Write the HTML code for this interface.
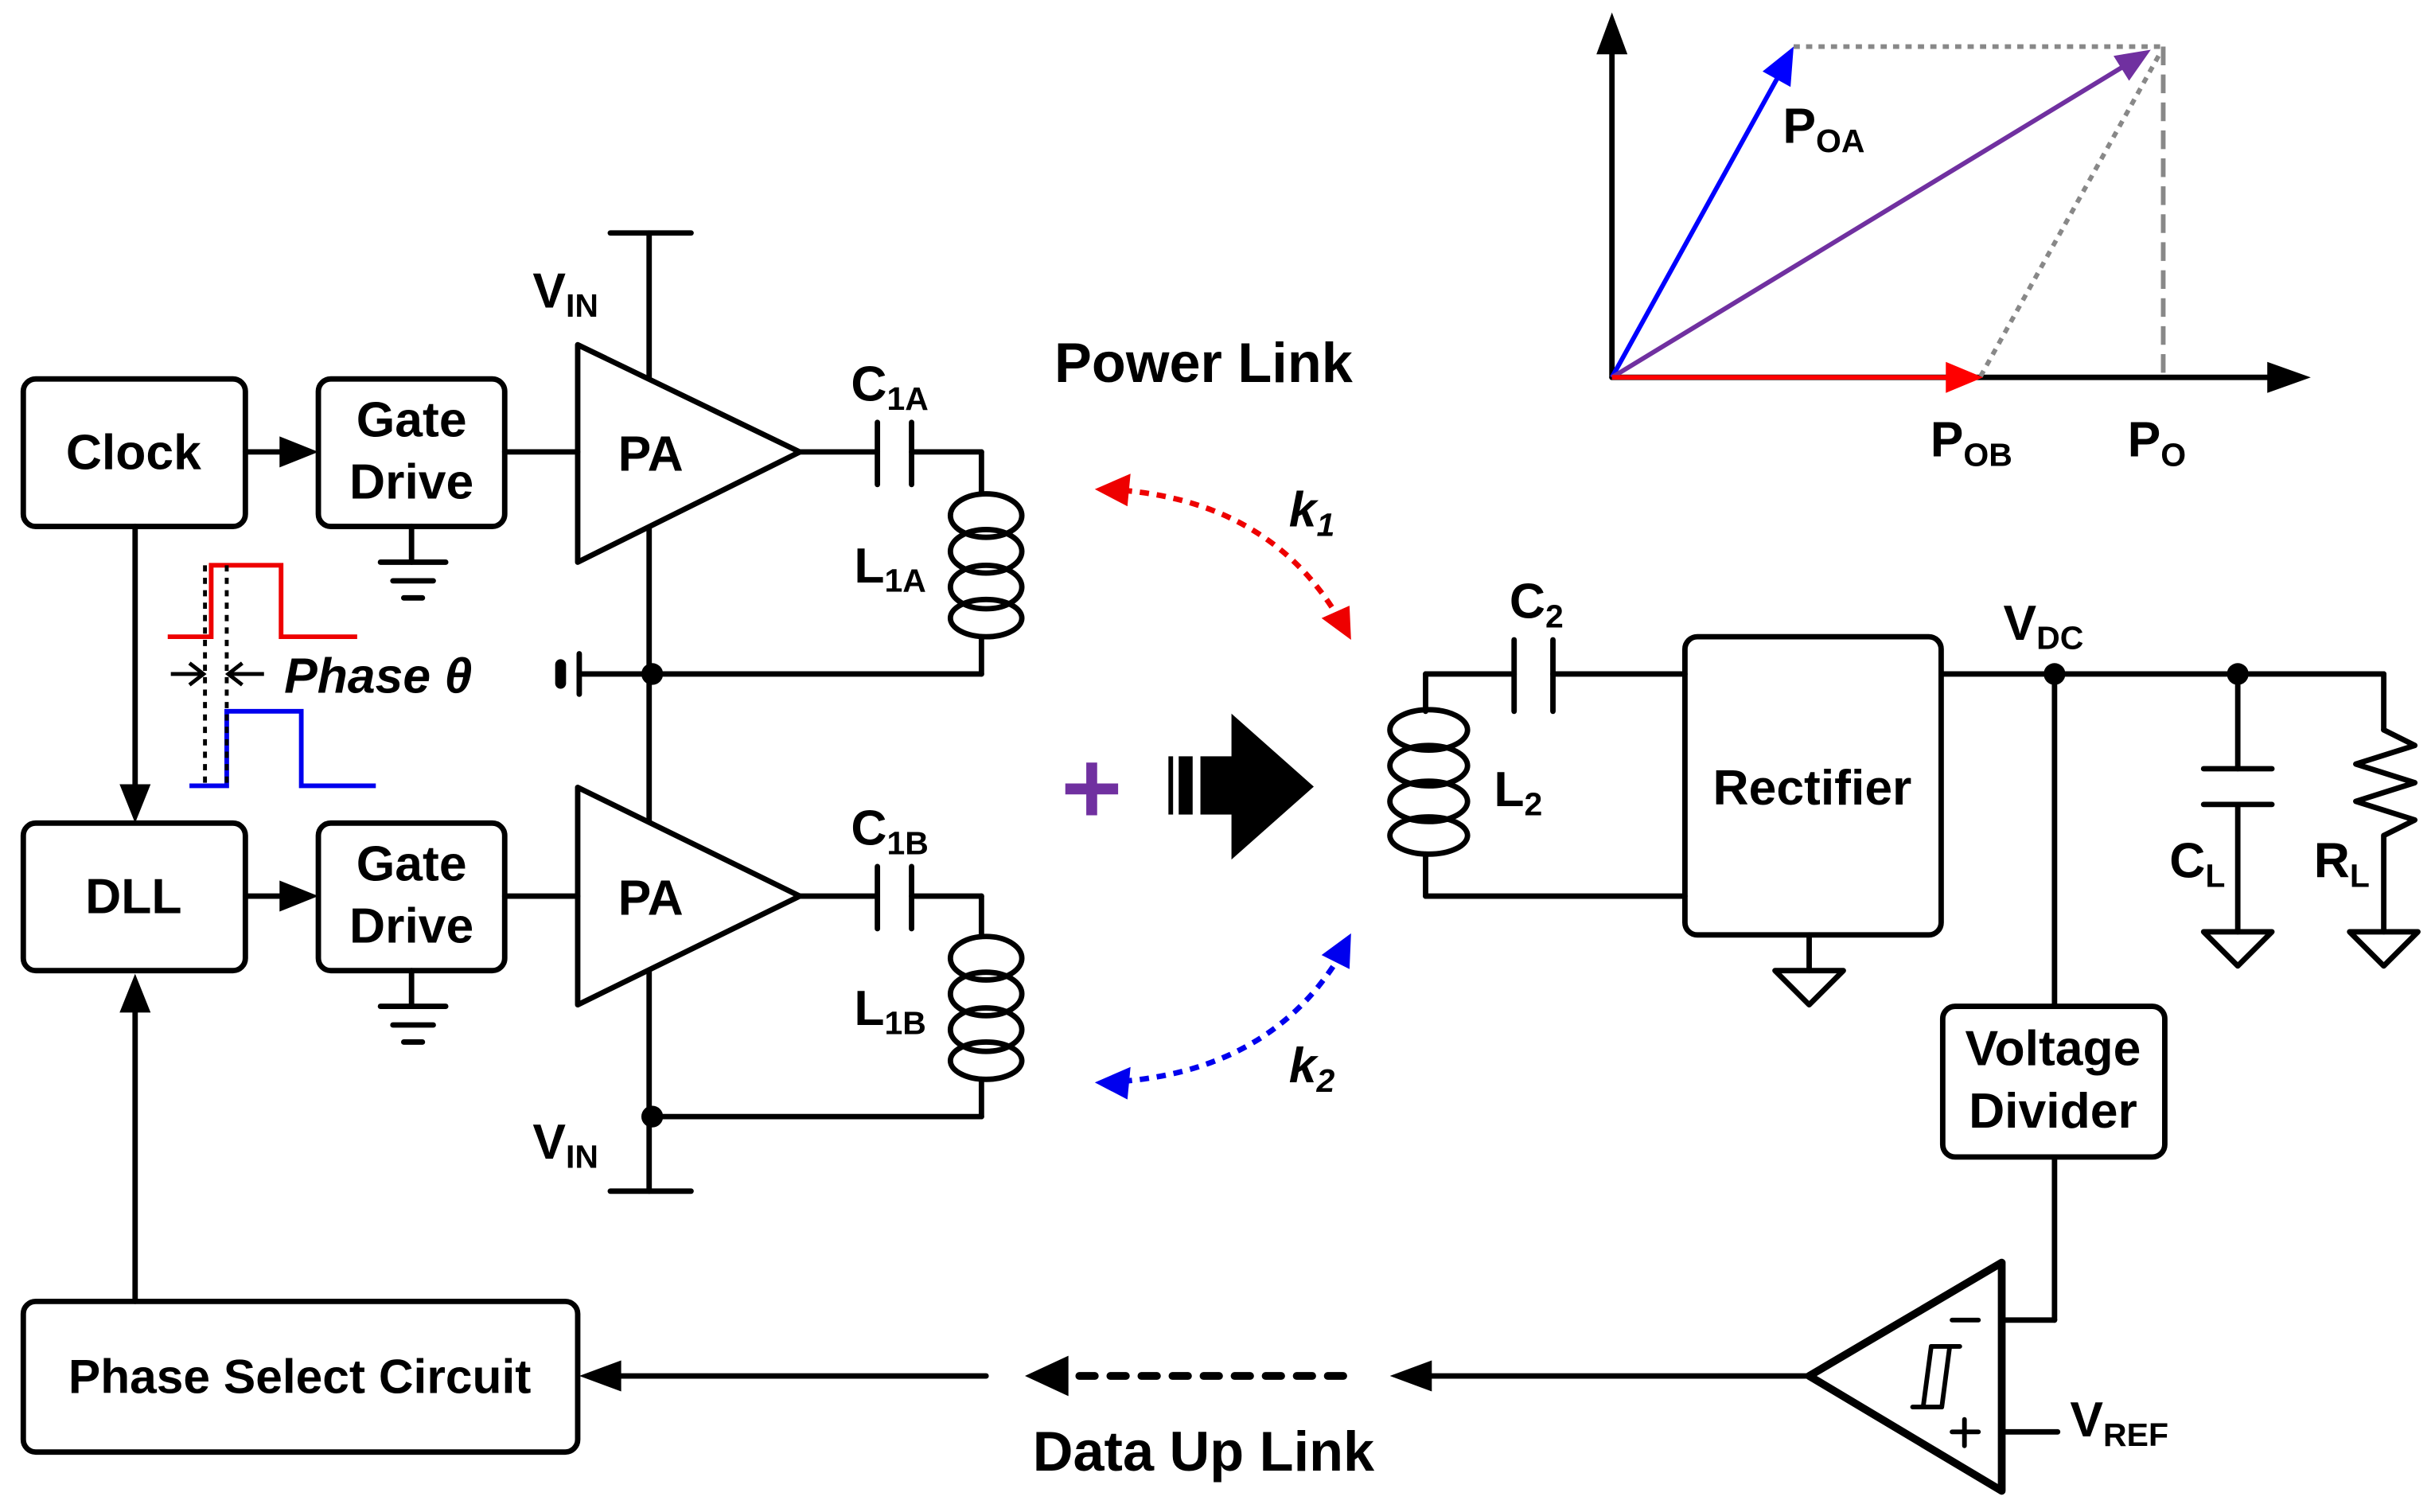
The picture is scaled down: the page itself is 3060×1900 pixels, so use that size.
<!DOCTYPE html>
<html><head><meta charset="utf-8"><style>
html,body{margin:0;padding:0;background:#fff;}
svg{display:block;}
text{font-family:"Liberation Sans",sans-serif;font-weight:bold;}
</style></head><body>
<svg width="3060" height="1900" viewBox="0 0 1568 973.6" xmlns="http://www.w3.org/2000/svg">
<g fill="none" stroke="#000" stroke-width="3.5" stroke-linecap="round" stroke-linejoin="round">
<rect x="15" y="244" width="143" height="95" rx="8"/>
<rect x="205" y="244" width="120" height="95" rx="8"/>
<rect x="15" y="530" width="143" height="95" rx="8"/>
<rect x="205" y="530" width="120" height="95" rx="8"/>
<rect x="15" y="838" width="357" height="97" rx="8"/>
<rect x="1085" y="410" width="165" height="192" rx="8"/>
<rect x="1251" y="648" width="143" height="97" rx="8"/>
<line x1="158" y1="291" x2="185" y2="291"/>
<line x1="158" y1="577" x2="185" y2="577"/>
<line x1="325" y1="291" x2="372" y2="291"/>
<line x1="325" y1="577" x2="372" y2="577"/>
<line x1="87" y1="339" x2="87" y2="508"/>
<line x1="87" y1="838" x2="87" y2="648"/>
<polygon points="372,222 372,362 515,291"/>
<polygon points="372,507 372,647 515,577"/>
<line x1="418" y1="150" x2="418" y2="244"/>
<line x1="393" y1="150" x2="445" y2="150"/>
<line x1="418" y1="340" x2="418" y2="529"/>
<line x1="418" y1="625" x2="418" y2="767"/>
<line x1="393" y1="767" x2="445" y2="767"/>
<line x1="515" y1="291" x2="565" y2="291"/>
<line x1="565" y1="272" x2="565" y2="312"/>
<line x1="587" y1="272" x2="587" y2="312"/>
<line x1="587" y1="291" x2="632" y2="291"/>
<line x1="632" y1="291" x2="632" y2="318"/>
<ellipse cx="635" cy="332" rx="23" ry="14"/>
<ellipse cx="635" cy="355" rx="23" ry="14"/>
<ellipse cx="635" cy="378" rx="23" ry="14"/>
<ellipse cx="635" cy="398" rx="23" ry="12"/>
<line x1="632" y1="410" x2="632" y2="434"/>
<line x1="632" y1="434" x2="420" y2="434"/>
<line x1="515" y1="577" x2="565" y2="577"/>
<line x1="565" y1="558" x2="565" y2="598"/>
<line x1="587" y1="558" x2="587" y2="598"/>
<line x1="587" y1="577" x2="632" y2="577"/>
<line x1="632" y1="577" x2="632" y2="603"/>
<ellipse cx="635" cy="617" rx="23" ry="14"/>
<ellipse cx="635" cy="640" rx="23" ry="14"/>
<ellipse cx="635" cy="663" rx="23" ry="14"/>
<ellipse cx="635" cy="683" rx="23" ry="12"/>
<line x1="632" y1="695" x2="632" y2="719"/>
<line x1="632" y1="719" x2="420" y2="719"/>
<line x1="418" y1="434" x2="373" y2="434"/>
<line x1="373" y1="421" x2="373" y2="447"/>
<line x1="361" y1="428" x2="361" y2="440" stroke-width="7"/>
<line x1="265" y1="339" x2="265" y2="362"/>
<line x1="245" y1="362" x2="287" y2="362"/>
<line x1="253" y1="374" x2="279" y2="374"/>
<line x1="260" y1="385" x2="272" y2="385"/>
<line x1="265" y1="625" x2="265" y2="648"/>
<line x1="245" y1="648" x2="287" y2="648"/>
<line x1="253" y1="660" x2="279" y2="660"/>
<line x1="260" y1="671" x2="272" y2="671"/>
<line x1="918" y1="434" x2="975" y2="434"/>
<line x1="975" y1="412" x2="975" y2="458"/>
<line x1="1000" y1="412" x2="1000" y2="458"/>
<line x1="1000" y1="434" x2="1085" y2="434"/>
<line x1="918" y1="577" x2="1085" y2="577"/>
<line x1="918" y1="434" x2="918" y2="458"/>
<ellipse cx="920" cy="470" rx="25" ry="13"/>
<ellipse cx="920" cy="493" rx="25" ry="13"/>
<ellipse cx="920" cy="516" rx="25" ry="13"/>
<ellipse cx="920" cy="538" rx="25" ry="12"/>
<line x1="918" y1="550" x2="918" y2="577"/>
<line x1="1165" y1="602" x2="1165" y2="625"/>
<polygon points="1143,625 1187,625 1165,647"/>
<line x1="1250" y1="434" x2="1535" y2="434"/>
<line x1="1323" y1="434" x2="1323" y2="648"/>
<line x1="1441" y1="434" x2="1441" y2="495"/>
<line x1="1419" y1="495" x2="1463" y2="495"/>
<line x1="1419" y1="518" x2="1463" y2="518"/>
<line x1="1441" y1="518" x2="1441" y2="600"/>
<polygon points="1419,600 1463,600 1441,622"/>
<line x1="1535" y1="434" x2="1535" y2="470"/>
<polyline points="1535,470 1555,480 1517,492 1555,504 1517,516 1555,528 1535,538 1535,600"/>
<polygon points="1513,600 1557,600 1535,622"/>
<polygon points="1165,886 1289,813 1289,960" stroke-width="5"/>
<line x1="1289" y1="850" x2="1323" y2="850"/>
<line x1="1323" y1="850" x2="1323" y2="745"/>
<line x1="1289" y1="922" x2="1325" y2="922"/>
<line x1="1257" y1="850" x2="1274" y2="850" stroke-width="3"/>
<line x1="1257" y1="922" x2="1274" y2="922" stroke-width="3"/>
<line x1="1265" y1="914" x2="1265" y2="931" stroke-width="3"/>
<path d="M1262,867 L1243.6,867 L1238.4,906 L1231.6,906 M1243.6,867 L1255.5,867 L1250.4,906 L1238.4,906" stroke-width="3"/>
<line x1="1165" y1="886" x2="917" y2="886"/>
<line x1="635" y1="886" x2="395" y2="886"/>
<line x1="865" y1="886" x2="685" y2="886" stroke-dasharray="10,10" stroke-width="5"/>
<line x1="1038" y1="243" x2="1038" y2="30"/>
<line x1="1038" y1="243" x2="1465" y2="243"/>
</g>
<g fill="#000">
<polygon points="205,291 180,281 180,301"/>
<polygon points="205,577 180,567 180,587"/>
<polygon points="87,530 77,505 97,505"/>
<polygon points="87,627 77,652 97,652"/>
<polygon points="373,886 400,876 400,896"/>
<polygon points="660,886 688,873 688,899"/>
<polygon points="895,886 922,876 922,896"/>
<polygon points="1038,8 1028,35 1048,35"/>
<polygon points="1488,243 1460,233 1460,253"/>
<circle cx="420" cy="434" r="7"/>
<circle cx="420" cy="719" r="7"/>
<circle cx="1323" cy="434" r="7"/>
<circle cx="1441" cy="434" r="7"/>
<rect x="752.4" y="487" width="3" height="37.5"/>
<rect x="759" y="487" width="9" height="37.5"/>
<rect x="773" y="487" width="21" height="37.5"/>
<polygon points="793,459.5 846,506.5 793,553.5"/>
</g>
<polyline points="108,410 136,410 136,364 181,364 181,410 230,410" fill="none" stroke="#e00" stroke-width="3"/>
<polyline points="122,506 146,506 146,458 194,458 194,506 242,506" fill="none" stroke="#00e" stroke-width="3"/>
<g stroke="#000" stroke-width="2.5" fill="none">
<line x1="132" y1="364" x2="132" y2="506" stroke-dasharray="4,4"/>
<line x1="146" y1="364" x2="146" y2="506" stroke-dasharray="4,4"/>
<line x1="110" y1="434" x2="130" y2="434"/>
<polyline points="122,427 131,434 122,441"/>
<line x1="170" y1="434" x2="148" y2="434"/>
<polyline points="156,427 147,434 156,441"/>
</g>
<path d="M712,315 Q820,320 866,405" fill="none" stroke="#e00" stroke-width="3.5" stroke-dasharray="6,5"/>
<polygon points="705,315 728,305 726,326" fill="#e00"/>
<polygon points="870,412 851,398 869,390" fill="#e00"/>
<path d="M712,697 Q820,692 866,610" fill="none" stroke="#00e" stroke-width="3.5" stroke-dasharray="6,5"/>
<polygon points="705,697 728,687 726,708" fill="#00e"/>
<polygon points="870,601 869,624 851,615" fill="#00e"/>
<g stroke="#7030a0" stroke-width="7"><line x1="686" y1="508" x2="720" y2="508"/><line x1="703" y1="491" x2="703" y2="525"/></g>
<g stroke-width="3" fill="none">
<line x1="1155" y1="30" x2="1393" y2="30" stroke="#888" stroke-dasharray="4,4"/>
<line x1="1390" y1="36" x2="1275" y2="243" stroke="#888" stroke-dasharray="4,4"/>
<line x1="1393" y1="30" x2="1393" y2="243" stroke="#888" stroke-dasharray="12,6"/>
<line x1="1038" y1="243" x2="1148" y2="44" stroke="#00f"/>
<line x1="1038" y1="243" x2="1372" y2="40" stroke="#7030a0"/>
<line x1="1038" y1="243" x2="1258" y2="243" stroke="#f00"/>
</g>
<polygon points="1155,30 1153,56 1135,46" fill="#00f"/>
<polygon points="1385,32 1371,52 1361,36" fill="#7030a0"/>
<polygon points="1277,243 1253,233 1253,253" fill="#f00"/>
<g font-size="32" text-anchor="middle">
<text x="86" y="302">Clock</text>
<text x="265" y="281">Gate</text>
<text x="265" y="321">Drive</text>
<text x="86" y="588">DLL</text>
<text x="265" y="567">Gate</text>
<text x="265" y="607">Drive</text>
<text x="419" y="303">PA</text>
<text x="419" y="589">PA</text>
<text x="193" y="897" font-size="31">Phase Select Circuit</text>
<text x="1167" y="518">Rectifier</text>
<text x="1322" y="686">Voltage</text>
<text x="1322" y="726">Divider</text>
<text x="775" y="246" font-size="36">Power Link</text>
<text x="775" y="947" font-size="36">Data Up Link</text>
</g>
<g font-size="32">
<text x="343" y="198">V<tspan font-size="21" dy="6">IN</tspan></text>
<text x="343" y="746">V<tspan font-size="21" dy="6">IN</tspan></text>
<text x="548" y="258">C<tspan font-size="21" dy="6">1A</tspan></text>
<text x="548" y="544">C<tspan font-size="21" dy="6">1B</tspan></text>
<text x="550" y="375">L<tspan font-size="21" dy="6">1A</tspan></text>
<text x="550" y="660">L<tspan font-size="21" dy="6">1B</tspan></text>
<text x="183" y="446" font-style="italic">Phase θ</text>
<text x="830" y="339" font-style="italic">k<tspan font-size="21" dy="6">1</tspan></text>
<text x="830" y="697" font-style="italic">k<tspan font-size="21" dy="6">2</tspan></text>
<text x="972" y="398">C<tspan font-size="21" dy="6">2</tspan></text>
<text x="962" y="519">L<tspan font-size="21" dy="6">2</tspan></text>
<text x="1290" y="412">V<tspan font-size="21" dy="6">DC</tspan></text>
<text x="1397" y="565">C<tspan font-size="21" dy="6">L</tspan></text>
<text x="1490" y="565">R<tspan font-size="21" dy="6">L</tspan></text>
<text x="1333" y="925">V<tspan font-size="21" dy="6">REF</tspan></text>
<text x="1148" y="92">P<tspan font-size="21" dy="6">OA</tspan></text>
<text x="1243" y="294">P<tspan font-size="21" dy="6">OB</tspan></text>
<text x="1370" y="294">P<tspan font-size="21" dy="6">O</tspan></text>
</g>
</svg>
</body></html>
